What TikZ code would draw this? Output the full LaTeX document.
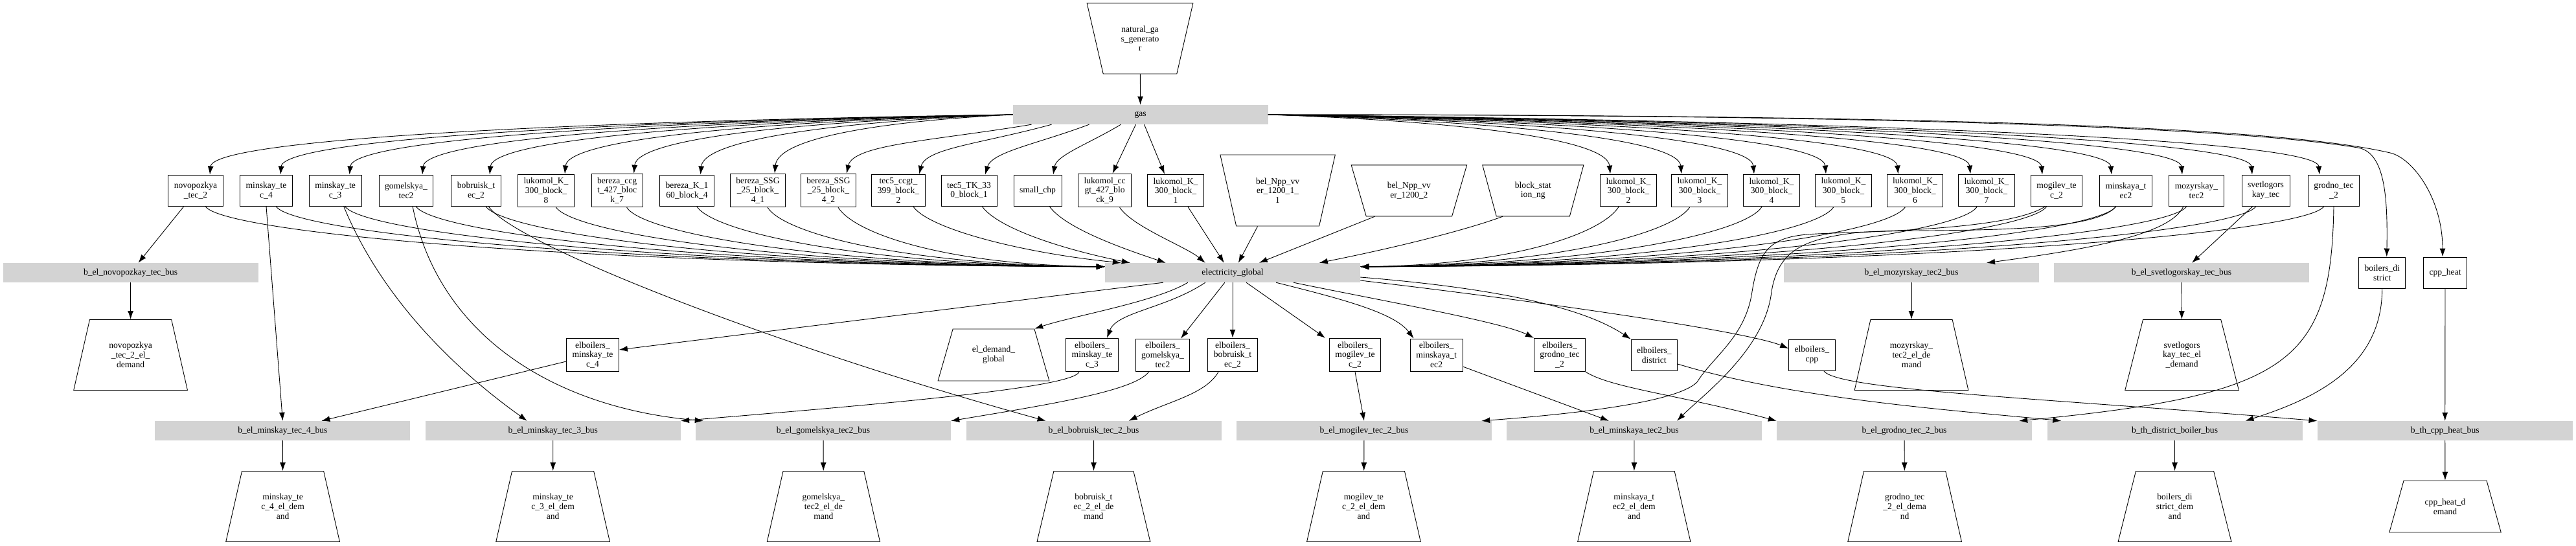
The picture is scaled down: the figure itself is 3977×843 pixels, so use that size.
\documentclass[tikz,border=0pt]{standalone}
\usepackage{fontspec}
\setmainfont{Liberation Serif}
\usetikzlibrary{shapes.geometric,arrows.meta}
\definecolor{busgrey}{HTML}{D3D3D3}

\tikzset{
  unit/.style={draw, rectangle, line width=0.9pt, minimum height=48pt, inner xsep=9pt, inner ysep=5.5pt, align=center},
  bus/.style={fill=busgrey, minimum width=394pt, minimum height=30pt, inner sep=0pt},
  sink/.style={draw, trapezium, line width=0.9pt, trapezium left angle=71.5, trapezium right angle=71.5,
    trapezium stretches=true, minimum width=176pt, minimum height=109pt, inner sep=0pt, align=center},
  sinkb/.style={sink, minimum width=172pt, minimum height=80pt, trapezium left angle=65.8, trapezium right angle=65.8},
  source/.style={sink, shape border rotate=180},
  flow/.style={line width=0.9pt, -{Latex[length=13pt,width=9pt]}},
}

\begin{document}
\begin{tikzpicture}[x=1pt, y=-1pt, font=\fontsize{13.6}{14.7}\selectfont]
    \useasboundingbox (0,0) rectangle (3977,843);

    % gas source and gas bus
    \node[source, minimum width=165pt] (natgas) at (1760,59.5) {natural\_ga\\s\_generato\\r};
    \node[bus] (gas) at (1760.7,177) {gas};

    % generating units
    \node[unit] (novo) at (302,294) {novopozkya\\\_tec\_2};
    \node[unit] (mtec4) at (411,294) {minskay\_te\\c\_4};
    \node[unit] (mtec3) at (517.6,294) {minskay\_te\\c\_3};
    \node[unit] (gomel) at (627,294) {gomelskya\_\\tec2};
    \node[unit] (bobr) at (735,294) {bobruisk\_t\\ec\_2};
    \node[unit] (luk8) at (843,294) {lukomol\_K\_\\300\_block\_\\8};
    \node[unit] (berccgt) at (952.6,294) {bereza\_ccg\\t\_427\_bloc\\k\_7};
    \node[unit] (berk) at (1060.5,294) {bereza\_K\_1\\60\_block\_4};
    \node[unit] (berssga) at (1170,294) {bereza\_SSG\\\_25\_block\_\\4\_1};
    \node[unit] (berssgb) at (1279,294) {bereza\_SSG\\\_25\_block\_\\4\_2};
    \node[unit] (tecccgt) at (1387,294) {tec5\_ccgt\_\\399\_block\_\\2};
    \node[unit] (tectk) at (1496,294) {tec5\_TK\_33\\0\_block\_1};
    \node[unit] (small) at (1602,294) {small\_chp};
    \node[unit] (lukccgt) at (1705.6,294) {lukomol\_cc\\gt\_427\_blo\\ck\_9};
    \node[unit] (luka) at (1815,294) {lukomol\_K\_\\300\_block\_\\1};
    \node[source, minimum width=178pt, minimum height=110pt] (nppa) at (1972.6,294) {bel\_Npp\_vv\\er\_1200\_1\_\\1};
    \node[source, minimum width=179pt, minimum height=79pt, trapezium left angle=65.7, trapezium right angle=65.7] (nppb) at (2175.4,294.3) {bel\_Npp\_vv\\er\_1200\_2};
    \node[source, minimum width=157pt, minimum height=79pt, trapezium left angle=68.6, trapezium right angle=68.6] (blockng) at (2366.8,294.3) {block\_stat\\ion\_ng};
    \node[unit] (lukb) at (2514,294) {lukomol\_K\_\\300\_block\_\\2};
    \node[unit] (lukc) at (2624,294) {lukomol\_K\_\\300\_block\_\\3};
    \node[unit] (lukd) at (2735,294) {lukomol\_K\_\\300\_block\_\\4};
    \node[unit] (luke) at (2846,294) {lukomol\_K\_\\300\_block\_\\5};
    \node[unit] (lukf) at (2956.5,294) {lukomol\_K\_\\300\_block\_\\6};
    \node[unit] (lukg) at (3067,294) {lukomol\_K\_\\300\_block\_\\7};
    \node[unit] (mogil) at (3175,294) {mogilev\_te\\c\_2};
    \node[unit] (minsk) at (3282,294) {minskaya\_t\\ec2};
    \node[unit] (mozyr) at (3391,294) {mozyrskay\_\\tec2};
    \node[unit] (svetl) at (3498,294) {svetlogors\\kay\_tec};
    \node[unit] (grodno) at (3603,294) {grodno\_tec\\\_2};

    % electricity buses, heat units
    \node[bus] (bnovo) at (201.6,421) {b\_el\_novopozkay\_tec\_bus};
    \node[bus] (elec) at (1903,421) {electricity\_global};
    \node[bus] (bmozyr) at (2951,421) {b\_el\_mozyrskay\_tec2\_bus};
    \node[bus] (bsvetl) at (3368,421) {b\_el\_svetlogorskay\_tec\_bus};
    \node[unit] (boildist) at (3677.7,421) {boilers\_di\\strict};
    \node[unit] (cppheat) at (3775,421) {cpp\_heat};

    % electric boilers and first demands
    \node[sink] (dnovo) at (201.6,548) {novopozkya\\\_tec\_2\_el\_\\demand};
    \node[unit] (ebmtec4) at (915,548) {elboilers\_\\minskay\_te\\c\_4};
    \node[sinkb] (dglobal) at (1534,548) {el\_demand\_\\global};
    \node[unit] (ebmtec3) at (1686,548) {elboilers\_\\minskay\_te\\c\_3};
    \node[unit] (ebgomel) at (1795,548) {elboilers\_\\gomelskya\_\\tec2};
    \node[unit] (ebbobr) at (1903,548) {elboilers\_\\bobruisk\_t\\ec\_2};
    \node[unit] (ebmogil) at (2092,548) {elboilers\_\\mogilev\_te\\c\_2};
    \node[unit] (ebminsk) at (2217.6,548) {elboilers\_\\minskaya\_t\\ec2};
    \node[unit] (ebgrodno) at (2408,548) {elboilers\_\\grodno\_tec\\\_2};
    \node[unit] (ebdist) at (2553.8,548) {elboilers\_\\district};
    \node[unit] (ebcpp) at (2797.4,548) {elboilers\_\\cpp};
    \node[sink] (dmozyr) at (2951,548) {mozyrskay\_\\tec2\_el\_de\\mand};
    \node[sink] (dsvetl) at (3368.6,548) {svetlogors\\kay\_tec\_el\\\_demand};

    % lower buses
    \node[bus] (bmtec4) at (436.4,665) {b\_el\_minskay\_tec\_4\_bus};
    \node[bus] (bmtec3) at (853.8,665) {b\_el\_minskay\_tec\_3\_bus};
    \node[bus] (bgomel) at (1271,665) {b\_el\_gomelskya\_tec2\_bus};
    \node[bus] (bbobr) at (1688.6,665) {b\_el\_bobruisk\_tec\_2\_bus};
    \node[bus] (bmogil) at (2106,665) {b\_el\_mogilev\_tec\_2\_bus};
    \node[bus] (bminsk) at (2523,665) {b\_el\_minskaya\_tec2\_bus};
    \node[bus] (bgrodno) at (2940,665) {b\_el\_grodno\_tec\_2\_bus};
    \node[bus] (bdist) at (3357.5,665) {b\_th\_district\_boiler\_bus};
    \node[bus] (bcpp) at (3774.7,665) {b\_th\_cpp\_heat\_bus};

    % lower demands
    \node[sink] (dmtec4) at (436.6,782) {minskay\_te\\c\_4\_el\_dem\\and};
    \node[sink] (dmtec3) at (853.6,782) {minskay\_te\\c\_3\_el\_dem\\and};
    \node[sink] (dgomel) at (1271.4,782) {gomelskya\_\\tec2\_el\_de\\mand};
    \node[sink] (dbobr) at (1688.4,782) {bobruisk\_t\\ec\_2\_el\_de\\mand};
    \node[sink] (dmogil) at (2105.4,782) {mogilev\_te\\c\_2\_el\_dem\\and};
    \node[sink] (dminsk) at (2522.8,782) {minskaya\_t\\ec2\_el\_dem\\and};
    \node[sink] (dgrodno) at (2940.6,782) {grodno\_tec\\\_2\_el\_dema\\nd};
    \node[sink] (ddist) at (3357.5,782) {boilers\_di\\strict\_dem\\and};
    \node[sinkb, minimum width=173pt] (dcpp) at (3775,782) {cpp\_heat\_d\\emand};

    % gas supply
    \draw[flow] (natgas) -- (gas);
    \draw[flow] (gas.west) .. controls +(-682,10) and +(5,-55) .. ([xshift=22]novo.north);
    \draw[flow] (gas.west) .. controls +(-622,10) and +(5,-55) .. ([xshift=22]mtec4.north);
    \draw[flow] (gas.west) .. controls +(-563,10) and +(5,-55) .. ([xshift=22]mtec3.north);
    \draw[flow] (gas.west) .. controls +(-502,10) and +(5,-55) .. ([xshift=25]gomel.north);
    \draw[flow] (gas.west) .. controls +(-444,10) and +(5,-55) .. ([xshift=21]bobr.north);
    \draw[flow] (gas.west) .. controls +(-381,10) and +(5,-55) .. ([xshift=29]luk8.north);
    \draw[flow] (gas.west) .. controls +(-322,10) and +(5,-55) .. ([xshift=26]berccgt.north);
    \draw[flow] (gas.west) .. controls +(-265,10) and +(5,-55) .. ([xshift=21]berk.north);
    \draw[flow] (gas.west) .. controls +(-202,10) and +(5,-55) .. ([xshift=26]berssga.north);
    \draw[flow] ([xshift=29]gas.south west) .. controls +(-150,25) and +(10,-45) .. ([xshift=28]berssgb.north);
    \draw[flow] ([xshift=60]gas.south west) .. controls +(-110,30) and +(10,-40) .. ([xshift=32]tecccgt.north);
    \draw[flow] ([xshift=118]gas.south west) .. controls +(-80,30) and +(10,-35) .. ([xshift=25]tectk.north);
    \draw[flow] ([xshift=167]gas.south west) .. controls +(-50,30) and +(5,-30) .. ([xshift=24]small.north);
    \draw[flow] ([xshift=190]gas.south west) -- ([xshift=12]lukccgt.north);
    \draw[flow] ([xshift=203]gas.south west) -- ([xshift=-17]luka.north);
    \draw[flow] (gas.east) .. controls +(291,10) and +(-5,-55) .. ([xshift=-28]lukb.north);
    \draw[flow] (gas.east) .. controls +(351,10) and +(-5,-55) .. ([xshift=-28]lukc.north);
    \draw[flow] (gas.east) .. controls +(412,10) and +(-5,-55) .. ([xshift=-27]lukd.north);
    \draw[flow] (gas.east) .. controls +(474,10) and +(-5,-55) .. ([xshift=-27]luke.north);
    \draw[flow] (gas.east) .. controls +(535,10) and +(-5,-55) .. ([xshift=-26]lukf.north);
    \draw[flow] (gas.east) .. controls +(596,10) and +(-5,-55) .. ([xshift=-25]lukg.north);
    \draw[flow] (gas.east) .. controls +(657,10) and +(-5,-55) .. ([xshift=-22]mogil.north);
    \draw[flow] (gas.east) .. controls +(716,10) and +(-5,-55) .. ([xshift=-22]minsk.north);
    \draw[flow] (gas.east) .. controls +(776,10) and +(-5,-55) .. ([xshift=-22]mozyr.north);
    \draw[flow] (gas.east) .. controls +(836,10) and +(-5,-55) .. ([xshift=-21]svetl.north);
    \draw[flow] (gas.east) .. controls +(893,10) and +(-5,-55) .. ([xshift=-22]grodno.north);
    \draw[flow] (gas.east) .. controls +(1100,0) and +(-150,-25) .. (3640,228) .. controls +(40,7) and +(2,-100) .. ([xshift=7]boildist.north);
    \draw[flow] (gas.east) .. controls +(1150,0) and +(-150,-35) .. (3690,236) .. controls +(35,8) and +(0,-90) .. ([xshift=-4]cppheat.north);

    % units into electricity_global
    \draw[flow] ([xshift=15]novo.south) .. controls +(25,40) and +(-833,-3) .. ([yshift=-6]elec.north west);
    \draw[flow] ([xshift=15]mtec4.south) .. controls +(25,40) and +(-768,-3) .. ([yshift=-6]elec.north west);
    \draw[flow] ([xshift=15]mtec3.south) .. controls +(25,40) and +(-704,-3) .. ([yshift=-6]elec.north west);
    \draw[flow] ([xshift=15]gomel.south) .. controls +(25,40) and +(-638,-3) .. ([yshift=-6]elec.north west);
    \draw[flow] ([xshift=15]bobr.south) .. controls +(25,40) and +(-574,-3) .. ([yshift=-6]elec.north west);
    \draw[flow] ([xshift=15]luk8.south) .. controls +(25,40) and +(-509,-3) .. ([yshift=-6]elec.north west);
    \draw[flow] ([xshift=15]berccgt.south) .. controls +(25,40) and +(-443,-3) .. ([yshift=-6]elec.north west);
    \draw[flow] ([xshift=15]berk.south) .. controls +(25,40) and +(-378,-3) .. ([yshift=-6]elec.north west);
    \draw[flow] ([xshift=15]berssga.south) .. controls +(25,40) and +(-313,-3) .. ([yshift=-6]elec.north west);
    \draw[flow] ([xshift=15]berssgb.south) .. controls +(25,40) and +(-247,-3) .. ([yshift=-6]elec.north west);
    \draw[flow] ([xshift=23]tecccgt.south) .. controls +(25,35) and +(-150,-15) .. ([xshift=25]elec.north west);
    \draw[flow] ([xshift=20]tectk.south) .. controls +(25,35) and +(-100,-20) .. ([xshift=39]elec.north west);
    \draw[flow] ([xshift=18]small.south) .. controls +(25,35) and +(-60,-20) .. ([xshift=94]elec.north west);
    \draw[flow] ([xshift=23]lukccgt.south) .. controls +(20,30) and +(-30,-25) .. ([xshift=155]elec.north west);
    \draw[flow] ([xshift=19]luka.south) -- ([xshift=184]elec.north west);
    \draw[flow] ([xshift=-31]nppa.south) -- ([xshift=206]elec.north west);
    \draw[flow] ([xshift=-53]nppb.south) -- ([xshift=238]elec.north west);
    \draw[flow] ([xshift=-47]blockng.south) .. controls +(-40,15) and +(150,-30) .. ([xshift=331]elec.north west);
    \draw[flow] ([xshift=-15]lukb.south) .. controls +(-25,40) and +(239,-3) .. ([yshift=-6]elec.north east);
    \draw[flow] ([xshift=-15]lukc.south) .. controls +(-25,40) and +(305,-3) .. ([yshift=-6]elec.north east);
    \draw[flow] ([xshift=-15]lukd.south) .. controls +(-25,40) and +(372,-3) .. ([yshift=-6]elec.north east);
    \draw[flow] ([xshift=-15]luke.south) .. controls +(-25,40) and +(439,-3) .. ([yshift=-6]elec.north east);
    \draw[flow] ([xshift=-15]lukf.south) .. controls +(-25,40) and +(505,-3) .. ([yshift=-6]elec.north east);
    \draw[flow] ([xshift=-15]lukg.south) .. controls +(-25,40) and +(571,-3) .. ([yshift=-6]elec.north east);
    \draw[flow] ([xshift=-15]mogil.south) .. controls +(-25,40) and +(636,-3) .. ([yshift=-6]elec.north east);
    \draw[flow] ([xshift=-15]minsk.south) .. controls +(-25,40) and +(700,-3) .. ([yshift=-6]elec.north east);
    \draw[flow] ([xshift=-15]mozyr.south) .. controls +(-25,40) and +(766,-3) .. ([yshift=-6]elec.north east);
    \draw[flow] ([xshift=-15]svetl.south) .. controls +(-25,40) and +(830,-3) .. ([yshift=-6]elec.north east);
    \draw[flow] ([xshift=-15]grodno.south) .. controls +(-25,40) and +(893,-3) .. ([yshift=-6]elec.north east);

    % units into their own buses
    \draw[flow] ([xshift=-18]novo.south) -- ([xshift=12]bnovo.north);
    \draw[flow] (mtec4.south) -- (bmtec4.north);
    \draw[flow] ([xshift=13]mtec3.south) .. controls +(70,170) and +(-70,-50) .. ([xshift=-40]bmtec3.north);
    \draw[flow] ([xshift=10]gomel.south) .. controls +(40,200) and +(-230,-20) .. ([xshift=12]bgomel.north west);
    \draw[flow] ([xshift=19]bobr.south) .. controls +(40,60) and +(-400,-110) .. ([xshift=-74]bbobr.north);
    \draw[flow] ([xshift=-17]mogil.south) .. controls +(-60,40) and +(60,-5) .. (2790,362) .. controls +(-60,5) and +(10,-60) .. (2705,450) .. controls +(-10,70) and +(25,-40) .. (2620,590) .. controls +(-25,25) and +(200,-15) .. ([xshift=-16]bmogil.north east);
    \draw[flow] ([xshift=-15]minsk.south) .. controls +(-40,50) and +(80,-10) .. (2860,360) .. controls +(-80,10) and +(10,-60) .. (2735,450) .. controls +(-10,90) and +(40,-40) .. ([xshift=66]bminsk.north);
    \draw[flow] ([xshift=-20]mozyr.south) .. controls +(-20,45) and +(150,-20) .. ([xshift=116]bmozyr.north);
    \draw[flow] ([xshift=-20]svetl.south) -- ([xshift=16]bsvetl.north);
    \draw[flow] (grodno.south) .. controls +(-4,240) and +(420,-40) .. ([xshift=-20]bgrodno.north east);

    % electricity_global out
    \draw[flow] ([xshift=90]elec.south west) -- ([yshift=8]ebmtec4.east);
    \draw[flow] ([xshift=128]elec.south west) .. controls +(-50,30) and +(60,-20) .. (dglobal.top right corner);
    \draw[flow] ([xshift=155]elec.south west) .. controls +(-60,40) and +(15,-40) .. ([xshift=23]ebmtec3.north);
    \draw[flow] ([xshift=185]elec.south west) -- ([xshift=28]ebgomel.north);
    \draw[flow] (elec.south) -- (ebbobr.north);
    \draw[flow] ([xshift=21]elec.south) -- ([xshift=-46]ebmogil.north);
    \draw[flow] ([xshift=67]elec.south) .. controls +(100,25) and +(-30,-40) .. ([xshift=-35]ebminsk.north);
    \draw[flow] ([xshift=94]elec.south) .. controls +(120,25) and +(-50,-25) .. (ebgrodno.north west);
    \draw[flow] ([yshift=-7]elec.east) .. controls +(250,20) and +(-60,-40) .. (ebdist.north west);
    \draw[flow] ([yshift=-12]elec.east) .. controls +(300,35) and +(-60,-25) .. ([yshift=10]ebcpp.west);

    % electric boilers into buses
    \draw[flow] ([yshift=-10]ebmtec4.west) -- ([xshift=60]bmtec4.north);
    \draw[flow] ([xshift=-20]ebmtec3.south) .. controls +(-10,25) and +(300,-25) .. (bmtec3.north east);
    \draw[flow] ([xshift=-21]ebgomel.south) .. controls +(-20,30) and +(150,-25) .. (bgomel.north east);
    \draw[flow] ([xshift=-22]ebbobr.south) .. controls +(-20,35) and +(60,-30) .. ([xshift=54]bbobr.north);
    \draw[flow] (ebmogil.south) -- (bmogil.north);
    \draw[flow] ([yshift=-18]ebminsk.east) -- ([xshift=-39]bminsk.north);
    \draw[flow] (ebgrodno.south east) .. controls +(40,25) and +(-150,-40) .. (bgrodno.north west);
    \draw[flow] ([yshift=-14]ebdist.east) .. controls +(180,55) and +(-150,-15) .. ([xshift=22]bdist.north west);
    \draw[flow] ([xshift=18]ebcpp.south) .. controls +(20,30) and +(-420,-35) .. (bcpp.north west);
    \draw[flow] (boildist.south) .. controls +(0,120) and +(110,-35) .. ([xshift=109]bdist.north);
    \draw[flow] (cppheat) -- (bcpp);

    % buses into demands
    \draw[flow] (bnovo) -- (dnovo);
    \draw[flow] (bmozyr) -- (dmozyr);
    \draw[flow] (bsvetl) -- (dsvetl);
    \draw[flow] (bmtec4) -- (dmtec4);
    \draw[flow] (bmtec3) -- (dmtec3);
    \draw[flow] (bgomel) -- (dgomel);
    \draw[flow] (bbobr) -- (dbobr);
    \draw[flow] (bmogil) -- (dmogil);
    \draw[flow] (bminsk) -- (dminsk);
    \draw[flow] (bgrodno) -- (dgrodno);
    \draw[flow] (bdist) -- (ddist);
    \draw[flow] (bcpp) -- (dcpp);
\end{tikzpicture}
\end{document}
